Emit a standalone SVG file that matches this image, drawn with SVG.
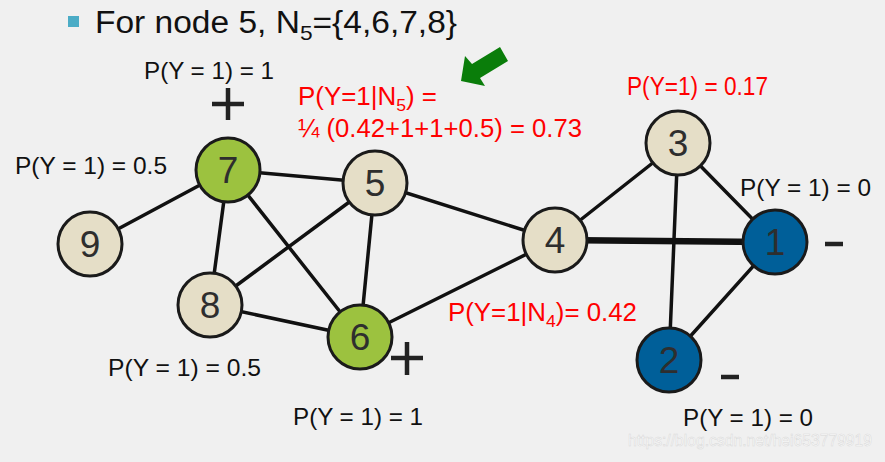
<svg xmlns="http://www.w3.org/2000/svg" width="885" height="462" viewBox="0 0 885 462">
<style>
  .bg { fill: #f0f0f0; }
  .edge { stroke: #111; stroke-width: 3.5; stroke-linecap: round; }
  .thick { stroke-width: 6.5; }
  .node circle { stroke: #1a1a1a; stroke-width: 3; }
  .beige { fill: #e5dec7; }
  .green { fill: #9cc23f; }
  .blue { fill: #005f99; }
  .num { font-family: "Liberation Sans", Arial, sans-serif; font-size: 37px; fill: #2e2e2e; text-anchor: middle; }
  .lbl { font-family: "Liberation Sans", Arial, sans-serif; font-size: 24px; fill: #111; }
  .red { fill: #ff0000; font-size: 25px; }
  .title { font-family: "Liberation Sans", Arial, sans-serif; font-size: 31px; fill: #111; }
  .sign { stroke: #222; stroke-width: 4.5; }
  .wm { font-family: "Liberation Sans", Arial, sans-serif; font-size: 16px; fill: #fbfbfb; stroke: #d8d8d8; stroke-width: 0.5; }
</style>
<rect class="bg" x="0" y="0" width="885" height="462"/>

<g id="title">
  <rect x="68" y="16" width="11" height="11" fill="#4bacc6"/>
  <text class="title" x="95" y="33" textLength="362" lengthAdjust="spacingAndGlyphs">For node 5, N<tspan font-size="21" dy="7">5</tspan><tspan dy="-7">={4,6,7,8}</tspan></text>
</g>

<g id="arrow">
  <polygon points="461,81 465,56 472,64 500,47 508,61 480,78 485,86" fill="#0a7d0a"/>
</g>

<g id="connectors">
  <line class="edge" x1="90" y1="244" x2="228" y2="170"/>
  <line class="edge" x1="228" y1="170" x2="375" y2="183"/>
  <line class="edge" x1="228" y1="170" x2="210" y2="305"/>
  <line class="edge" x1="228" y1="170" x2="360" y2="337"/>
  <line class="edge" x1="375" y1="183" x2="210" y2="305"/>
  <line class="edge" x1="375" y1="183" x2="360" y2="337"/>
  <line class="edge" x1="375" y1="183" x2="555" y2="240"/>
  <line class="edge" x1="210" y1="305" x2="360" y2="337"/>
  <line class="edge" x1="360" y1="337" x2="555" y2="240"/>
  <line class="edge" x1="555" y1="240" x2="678" y2="143"/>
  <line class="edge thick" x1="555" y1="240" x2="775" y2="242"/>
  <line class="edge" x1="678" y1="143" x2="775" y2="242"/>
  <line class="edge" x1="678" y1="143" x2="669" y2="360"/>
  <line class="edge" x1="775" y1="242" x2="669" y2="360"/>
</g>

<g id="node9" class="node"><circle class="beige" cx="90" cy="244" r="32"/><text class="num" x="90" y="257">9</text></g>
<g id="node7" class="node"><circle class="green" cx="228" cy="170" r="32"/><text class="num" x="228" y="183">7</text></g>
<g id="node5" class="node"><circle class="beige" cx="375" cy="183" r="32"/><text class="num" x="375" y="196">5</text></g>
<g id="node8" class="node"><circle class="beige" cx="210" cy="305" r="32"/><text class="num" x="210" y="318">8</text></g>
<g id="node6" class="node"><circle class="green" cx="360" cy="337" r="32"/><text class="num" x="360" y="350">6</text></g>
<g id="node4" class="node"><circle class="beige" cx="555" cy="240" r="32"/><text class="num" x="555" y="253">4</text></g>
<g id="node3" class="node"><circle class="beige" cx="678" cy="143" r="32"/><text class="num" x="678" y="156">3</text></g>
<g id="node1" class="node"><circle class="blue" cx="775" cy="242" r="32"/><text class="num" x="775" y="255">1</text></g>
<g id="node2" class="node"><circle class="blue" cx="669" cy="360" r="32"/><text class="num" x="669" y="373">2</text></g>

<g id="signs">
  <line class="sign" x1="212" y1="104" x2="244" y2="104"/>
  <line class="sign" x1="228" y1="88" x2="228" y2="120"/>
  <line class="sign" x1="391" y1="358" x2="423" y2="358"/>
  <line class="sign" x1="407" y1="342" x2="407" y2="375"/>
  <line class="sign" x1="825" y1="244" x2="843" y2="244"/>
  <line class="sign" x1="721" y1="377" x2="739" y2="377"/>
</g>

<g id="labels">
  <text class="lbl" x="144" y="79" textLength="130" lengthAdjust="spacingAndGlyphs">P(Y = 1) = 1</text>
  <text class="lbl red" x="298" y="105" textLength="139" lengthAdjust="spacingAndGlyphs">P(Y=1|N<tspan font-size="17" dy="6">5</tspan><tspan dy="-6">) =</tspan></text>
  <text class="lbl red" x="298" y="137" textLength="284" lengthAdjust="spacingAndGlyphs">¼ (0.42+1+1+0.5) = 0.73</text>
  <text class="lbl red" x="627" y="95" textLength="141" lengthAdjust="spacingAndGlyphs">P(Y=1) = 0.17</text>
  <text class="lbl" x="15" y="174" textLength="152" lengthAdjust="spacingAndGlyphs">P(Y = 1) = 0.5</text>
  <text class="lbl" x="740" y="196" textLength="131" lengthAdjust="spacingAndGlyphs">P(Y = 1) = 0</text>
  <text class="lbl red" x="448" y="321" textLength="189" lengthAdjust="spacingAndGlyphs">P(Y=1|N<tspan font-size="17" dy="6">4</tspan><tspan dy="-6">)= 0.42</tspan></text>
  <text class="lbl" x="108" y="376" textLength="153" lengthAdjust="spacingAndGlyphs">P(Y = 1) = 0.5</text>
  <text class="lbl" x="293" y="425" textLength="130" lengthAdjust="spacingAndGlyphs">P(Y = 1) = 1</text>
  <text class="lbl" x="683" y="426" textLength="130" lengthAdjust="spacingAndGlyphs">P(Y = 1) = 0</text>
  <text class="wm" x="628" y="446" textLength="244" lengthAdjust="spacingAndGlyphs">https://blog.csdn.net/hei653779919</text>
</g>
</svg>
